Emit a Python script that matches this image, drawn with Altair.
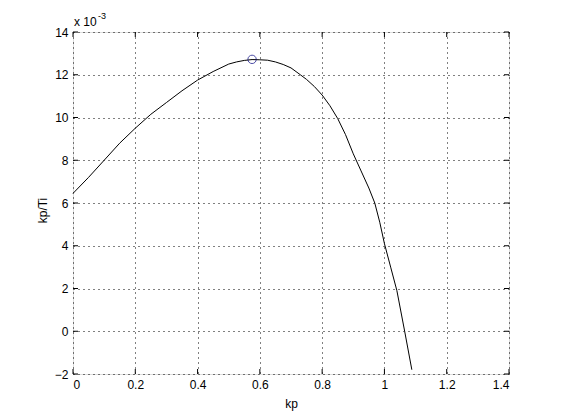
import altair as alt
import pandas as pd

# curve values (kp, kp/Ti in units of 1e-3)
kp = [0.0, 0.05, 0.1, 0.15, 0.2, 0.25, 0.3, 0.35, 0.4, 0.45, 0.5, 0.525, 0.55, 0.575,
      0.6, 0.625, 0.65, 0.675, 0.7, 0.73, 0.75, 0.775, 0.8, 0.825, 0.85, 0.875, 0.9,
      0.925, 0.95, 0.969, 0.985, 1.0, 1.02, 1.04, 1.065, 1.088]
kp_ti = [6.45, 7.2, 8.0, 8.8, 9.5, 10.15, 10.7, 11.25, 11.75, 12.15, 12.5, 12.6, 12.67, 12.71,
         12.7, 12.68, 12.6, 12.48, 12.32, 12.0, 11.78, 11.45, 11.05, 10.55, 9.95, 9.2, 8.3,
         7.5, 6.7, 6.0, 5.1, 4.1, 3.0, 1.9, 0.0, -1.8]
peak_kp = [0.575]
peak_val = [12.72]

x_ticks = [0, 0.2, 0.4, 0.6, 0.8, 1, 1.2, 1.4]
y_ticks = [-2, 0, 2, 4, 6, 8, 10, 12, 14]

W, H = 436, 342
FONT = "Liberation Sans"
FS = 12

df = pd.DataFrame({"kp": kp, "v": kp_ti})
peak = pd.DataFrame({"kp": peak_kp, "v": peak_val})
xt = pd.DataFrame({"t": x_ticks})
yt = pd.DataFrame({"t": y_ticks})

xscale = alt.Scale(domain=[0, 1.4], nice=False, zero=False)
yscale = alt.Scale(domain=[-2, 14], nice=False, zero=False)

xaxis = alt.Axis(values=x_ticks, format="~g", grid=True, gridDash=[1, 4], gridColor="#000",
                 gridOpacity=1, tickSize=0, domain=False, labelFont=FONT, labelFontSize=FS,
                 labelColor="#000", labelPadding=5, title="kp", titleFont=FONT,
                 titleFontSize=FS, titleFontWeight="normal", titleColor="#000",
                 titleY=29, titleBaseline="middle", titleAlign="center")
yaxis = alt.Axis(values=y_ticks, format="~g", grid=True, gridDash=[1, 4], gridColor="#000",
                 gridOpacity=1, tickSize=0, domain=False, labelFont=FONT, labelFontSize=FS,
                 labelColor="#000", labelPadding=5, title="kp/Ti", titleFont=FONT,
                 titleFontSize=FS, titleFontWeight="normal", titleColor="#000",
                 titleX=-31, titleY=178, titleBaseline="middle", titleAlign="center",
                 titleAngle=270)

line = alt.Chart(df).mark_line(color="#000", strokeWidth=1).encode(
    x=alt.X("kp:Q", scale=xscale, axis=xaxis),
    y=alt.Y("v:Q", scale=yscale, axis=yaxis),
    order="kp:Q",
)

marker = alt.Chart(peak).mark_point(shape="circle", filled=False, color="#000080",
                                    size=70, strokeWidth=1).encode(
    x=alt.X("kp:Q", scale=xscale), y=alt.Y("v:Q", scale=yscale))

TL = 5
xb = alt.Chart(xt).mark_rule(color="#000", strokeWidth=1).encode(
    x=alt.X("t:Q", scale=xscale), y=alt.value(H), y2=alt.value(H - TL))
xtop = alt.Chart(xt).mark_rule(color="#000", strokeWidth=1).encode(
    x=alt.X("t:Q", scale=xscale), y=alt.value(0), y2=alt.value(TL))
yl = alt.Chart(yt).mark_rule(color="#000", strokeWidth=1).encode(
    y=alt.Y("t:Q", scale=yscale), x=alt.value(0), x2=alt.value(TL))
yr = alt.Chart(yt).mark_rule(color="#000", strokeWidth=1).encode(
    y=alt.Y("t:Q", scale=yscale), x=alt.value(W), x2=alt.value(W - TL))

exp_base = alt.Chart(pd.DataFrame({"s": ["x 10"]})).mark_text(
    font=FONT, fontSize=12, align="left", baseline="alphabetic", color="#000").encode(
    text="s:N", x=alt.value(1), y=alt.value(-6))
exp_sup = alt.Chart(pd.DataFrame({"s": ["-3"]})).mark_text(
    font=FONT, fontSize=9, align="left", baseline="alphabetic", color="#000").encode(
    text="s:N", x=alt.value(25), y=alt.value(-13))

chart = alt.layer(line, xb, xtop, yl, yr, marker, exp_base, exp_sup).properties(
    width=W, height=H,
    autosize=alt.AutoSizeParams(type="none"),
    padding={"left": 65, "top": 24, "right": 10, "bottom": 40},
).configure_view(stroke="#000", strokeWidth=1).configure(background="white")

chart.save("out.html", embed_options={"renderer": "svg", "actions": False})
